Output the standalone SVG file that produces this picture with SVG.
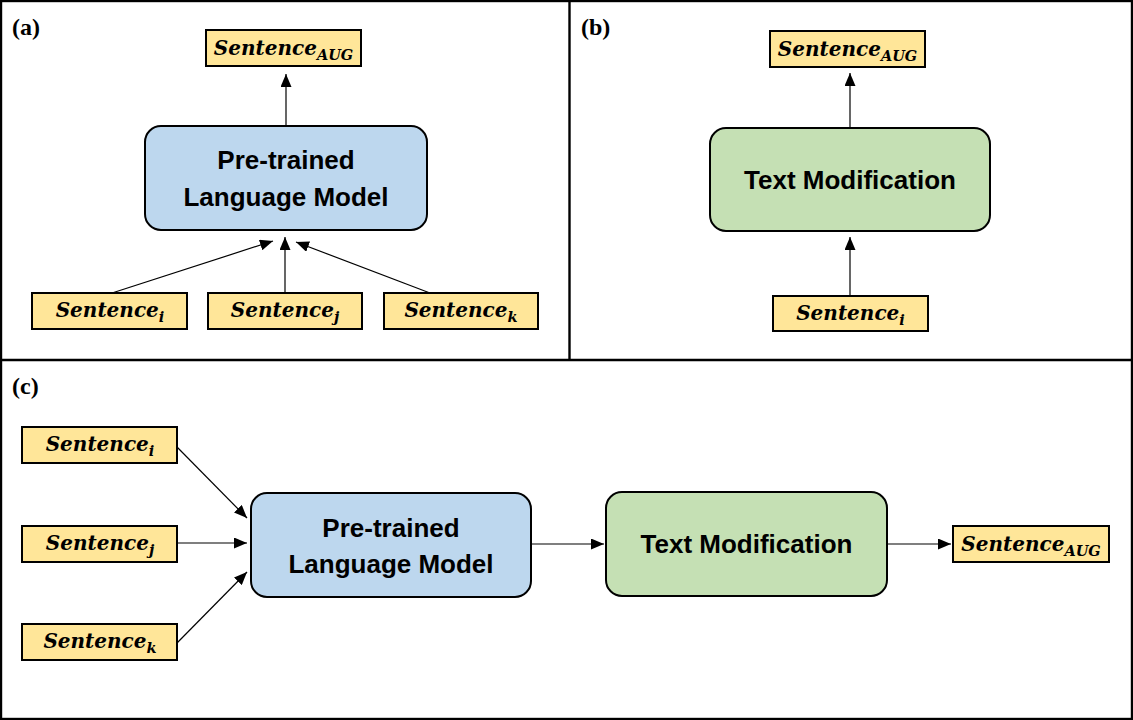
<svg xmlns="http://www.w3.org/2000/svg" width="1133" height="720" viewBox="0 0 1133 720">
<style>
.frame{fill:none;stroke:#000;stroke-width:2.4}
.sent rect{fill:#FFE699;stroke:#000;stroke-width:2}
.blue rect{fill:#BDD7EE;stroke:#000;stroke-width:2}
.green rect{fill:#C5E0B4;stroke:#000;stroke-width:2}
.st{font-family:"DejaVu Serif",serif;font-weight:bold;font-style:italic;font-size:20px;fill:#000}
.sub{font-size:14.5px}
.bt{font-family:"Liberation Sans",Arial,sans-serif;font-weight:bold;font-size:26px;fill:#000}
.lbl{font-family:"Liberation Serif","Times New Roman",serif;font-weight:bold;font-size:24px;fill:#000}
.conn line{stroke:#000;stroke-width:1.2;marker-end:url(#ah)}
</style>
<defs>
<marker id="ah" viewBox="0 0 13 11" refX="13" refY="5.5" markerWidth="13" markerHeight="11" markerUnits="userSpaceOnUse" orient="auto">
<path d="M0,0 L13,5.5 L0,11 Z" fill="#000"/>
</marker>
</defs>
<rect width="1133" height="720" fill="#fff"/>
<g id="frame">
<rect class="frame" x="1" y="1" width="1131" height="718"/>
<line class="frame" x1="0" y1="360" x2="1133" y2="360"/>
<line class="frame" x1="569.5" y1="0" x2="569.5" y2="360"/>
</g>
<text class="lbl" x="12" y="35">(a)</text>
<text class="lbl" x="581" y="35">(b)</text>
<text class="lbl" x="12" y="394">(c)</text>

<!-- Panel a -->
<g id="a_aug" class="sent"><rect x="206" y="30" width="155" height="36"/><text class="st" x="283.5" y="55" text-anchor="middle">Sentence<tspan class="sub" dy="5">AUG</tspan></text></g>
<g id="a_plm" class="blue"><rect x="145" y="126" width="282" height="104" rx="16"/><text class="bt" x="286" y="169" text-anchor="middle">Pre-trained</text><text class="bt" x="286" y="206" text-anchor="middle">Language Model</text></g>
<g id="a_si" class="sent"><rect x="32" y="293" width="155" height="36"/><text class="st" x="110" y="317" text-anchor="middle">Sentence<tspan class="sub" dy="5">i</tspan></text></g>
<g id="a_sj" class="sent"><rect x="208" y="293" width="154" height="36"/><text class="st" x="285" y="317" text-anchor="middle">Sentence<tspan class="sub" dy="5">j</tspan></text></g>
<g id="a_sk" class="sent"><rect x="384" y="293" width="154" height="36"/><text class="st" x="461" y="317" text-anchor="middle">Sentence<tspan class="sub" dy="5">k</tspan></text></g>

<!-- Panel b -->
<g id="b_aug" class="sent"><rect x="770" y="31" width="155" height="36"/><text class="st" x="847.5" y="56" text-anchor="middle">Sentence<tspan class="sub" dy="5">AUG</tspan></text></g>
<g id="b_tm" class="green"><rect x="710" y="128" width="280" height="103" rx="16"/><text class="bt" x="850" y="189" text-anchor="middle">Text Modification</text></g>
<g id="b_si" class="sent"><rect x="773" y="296" width="155" height="35"/><text class="st" x="850.5" y="320" text-anchor="middle">Sentence<tspan class="sub" dy="5">i</tspan></text></g>

<!-- Panel c -->
<g id="c_si" class="sent"><rect x="22" y="427" width="155" height="36"/><text class="st" x="100" y="451" text-anchor="middle">Sentence<tspan class="sub" dy="5">i</tspan></text></g>
<g id="c_sj" class="sent"><rect x="22" y="526" width="155" height="36"/><text class="st" x="100" y="550" text-anchor="middle">Sentence<tspan class="sub" dy="5">j</tspan></text></g>
<g id="c_sk" class="sent"><rect x="22" y="624" width="155" height="36"/><text class="st" x="100" y="648" text-anchor="middle">Sentence<tspan class="sub" dy="5">k</tspan></text></g>
<g id="c_plm" class="blue"><rect x="251" y="493" width="280" height="104" rx="16"/><text class="bt" x="391" y="537" text-anchor="middle">Pre-trained</text><text class="bt" x="391" y="573" text-anchor="middle">Language Model</text></g>
<g id="c_tm" class="green"><rect x="606" y="492" width="281" height="104" rx="16"/><text class="bt" x="746.5" y="553" text-anchor="middle">Text Modification</text></g>
<g id="c_aug" class="sent"><rect x="953" y="526" width="156" height="36"/><text class="st" x="1031" y="551" text-anchor="middle">Sentence<tspan class="sub" dy="5">AUG</tspan></text></g>

<g id="connectors" class="conn">
<line x1="286" y1="126" x2="286" y2="74"/>
<line x1="112" y1="293" x2="273" y2="241"/>
<line x1="285" y1="293" x2="285" y2="237"/>
<line x1="430" y1="293" x2="296" y2="242"/>
<line x1="850" y1="127" x2="850" y2="73"/>
<line x1="850" y1="296" x2="850" y2="237"/>
<line x1="177" y1="447" x2="247" y2="518"/>
<line x1="177" y1="543" x2="247" y2="543"/>
<line x1="177" y1="643" x2="247" y2="572"/>
<line x1="531" y1="544" x2="604" y2="544"/>
<line x1="887" y1="544" x2="951" y2="544"/>
</g>
</svg>
